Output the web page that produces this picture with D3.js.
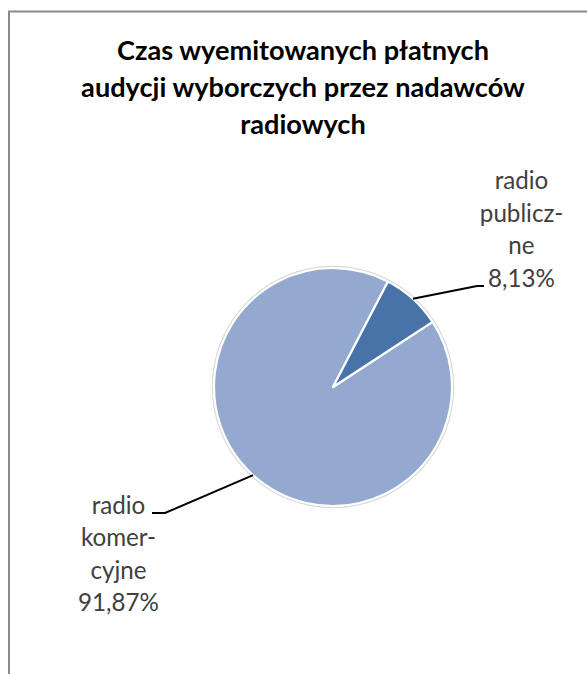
<!DOCTYPE html>
<html>
<head>
<meta charset="utf-8">
<script src="https://cdn.jsdelivr.net/npm/d3@7"></script>
<style>
  html, body { margin: 0; padding: 0; background: #fff; }
  svg { display: block; }
</style>
</head>
<body>
<svg id="chart" width="587" height="674"></svg>
<script>
// ---- data ----
const titleLines = ["Czas wyemitowanych płatnych", "audycji wyborczych przez nadawców", "radiowych"];
const categories = ["radio komercyjne", "radio publiczne"];
const values = [91.87, 8.13];
const labelLines = [
  ["radio", "komer-", "cyjne", "91,87%"],
  ["radio", "publicz-", "ne", "8,13%"]
];
const colors = ["#94a9d0", "#4773a8"];

// ---- layout ----
const W = 587, H = 674;
const svg = d3.select("#chart");
const font = "Lato, 'Open Sans', sans-serif";

// frame (chart area border, extends past the window)
svg.append("rect")
  .attr("x", 9).attr("y", 11.5)
  .attr("width", W + 20).attr("height", H + 20)
  .attr("fill", "#fff").attr("stroke", "#8a8a8a").attr("stroke-width", 2);

// title
const title = svg.append("g");
const titleBase = [59.5, 96.5, 133.5];
const titleCx = 303;
title.selectAll("text").data(titleLines).join("text")
  .attr("x", titleCx).attr("y", (d, i) => titleBase[i])
  .attr("text-anchor", "middle")
  .attr("font-family", font).attr("font-weight", "bold")
  .attr("font-size", 24).attr("fill", "#000")
  .text(d => d);
// fit font so the longest line matches the reference width
{
  const t = title.selectAll("text").nodes()[1];
  const w = t.getComputedTextLength();
  const fs = 24 * 444 / w;
  title.selectAll("text").attr("font-size", fs);
}

// pie
const cx = 333, cy = 387, r = 119;
const startA = 56.8 * Math.PI / 180;
const pie = d3.pie().sort(null).value(d => d)
  .startAngle(startA).endAngle(startA + 2 * Math.PI);
const arcs = pie(values);
const arc = d3.arc().innerRadius(0).outerRadius(r);

const g = svg.append("g").attr("transform", `translate(${cx},${cy})`);
g.append("circle").attr("r", r + 1.5).attr("fill", "none")
  .attr("stroke", "#d8d8d8").attr("stroke-width", 1.5);
g.selectAll("path").data(arcs).join("path")
  .attr("d", arc)
  .attr("fill", (d, i) => colors[i])
  .attr("stroke", "#fff").attr("stroke-width", 2.2)
  .attr("stroke-linejoin", "round");

// labels
const labelPos = [
  { x: 118.5, base: 514, spacing: 32.4, elbow: [165, 513], end: [152, 513] },
  { x: 521.5, base: 189, spacing: 32.7, elbow: [477, 286], end: [484, 286] }
];
const lblG = svg.append("g");
let labelFs = 20;
arcs.forEach((a, i) => {
  const p = labelPos[i];
  const mid = (a.startAngle + a.endAngle) / 2;
  const sx = cx + r * Math.sin(mid), sy = cy - r * Math.cos(mid);
  lblG.append("path")
    .attr("d", `M${sx},${sy}L${p.elbow[0]},${p.elbow[1]}L${p.end[0]},${p.end[1]}`)
    .attr("fill", "none").attr("stroke", "#000").attr("stroke-width", 2);
  lblG.append("g").attr("class", "lbl").selectAll("text").data(labelLines[i]).join("text")
    .attr("x", p.x).attr("y", (d, j) => p.base + j * p.spacing)
    .attr("text-anchor", "middle")
    .attr("font-family", font).attr("font-size", labelFs)
    .attr("fill", "#404040")
    .text(d => d);
});
{
  const t = lblG.selectAll("g.lbl").nodes()[0].lastChild;
  const w = t.getComputedTextLength();
  const fs = labelFs * 81 / w;
  lblG.selectAll("text").attr("font-size", fs);
}
</script>
</body>
</html>
